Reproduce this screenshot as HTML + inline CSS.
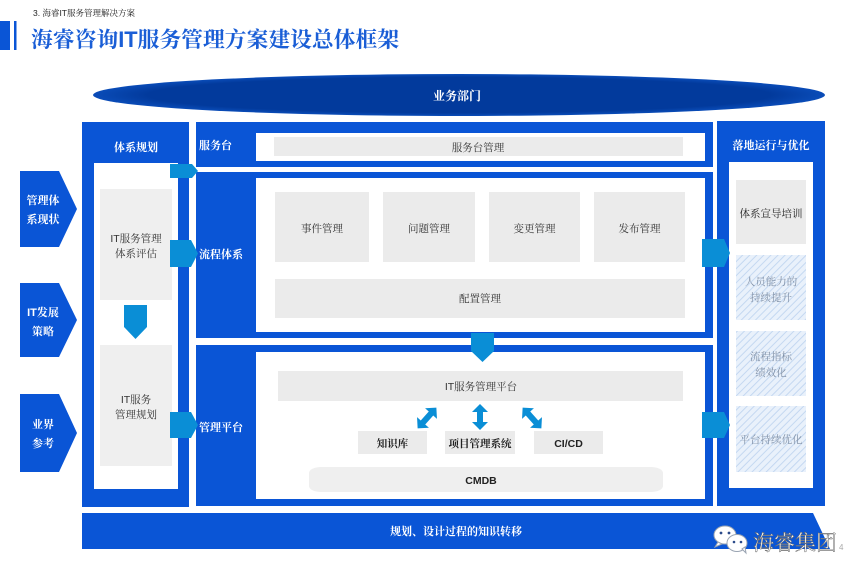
<!DOCTYPE html>
<html><head><meta charset="utf-8"><style>
html,body{margin:0;padding:0;background:#fff;}
body{width:865px;height:579px;overflow:hidden;position:relative;}
svg{position:absolute;left:0;top:0;}
text{font-family:"Liberation Sans","Noto Serif CJK SC","Noto Sans CJK SC",serif;}
</style></head><body>
<svg width="865" height="579" viewBox="0 0 865 579" xmlns="http://www.w3.org/2000/svg">
<defs>
<pattern id="hatch" width="5" height="5" patternUnits="userSpaceOnUse" patternTransform="rotate(45)">
<rect width="5" height="5" fill="#e9f1fb"/>
<line x1="0" y1="0" x2="0" y2="5" stroke="#c4d8f1" stroke-width="2"/>
</pattern>
<radialGradient id="ell" cx="0.5" cy="0.5" r="0.5">
<stop offset="0" stop-color="#023a9c"/>
<stop offset="0.85" stop-color="#023a9c"/>
<stop offset="1" stop-color="#0a4cb8"/>
</radialGradient>
</defs>

<!-- header -->
<text x="33" y="16" font-size="8.5" fill="#222">3. 海睿IT服务管理解决方案</text>
<rect x="0" y="21" width="10" height="29" fill="#0a55d6"/>
<rect x="14" y="21" width="2.5" height="29" fill="#0a55d6"/>
<text x="31" y="47" font-size="21.8" font-weight="bold" fill="#1a5ed6" font-family="Liberation Serif,Noto Serif CJK SC,serif">海睿咨询IT服务管理方案建设总体框架</text>

<!-- ellipse -->
<ellipse cx="459" cy="95" rx="366" ry="21" fill="url(#ell)"/>
<text x="457" y="100" font-size="12" font-weight="bold" fill="#fff" text-anchor="middle">业务部门</text>

<!-- left pentagons -->
<polygon points="20,171 59,171 77,209 59,247 20,247" fill="#0a55d6"/>
<text x="43" y="204" font-size="11" font-weight="bold" fill="#fff" text-anchor="middle">管理体</text>
<text x="43" y="223" font-size="11" font-weight="bold" fill="#fff" text-anchor="middle">系现状</text>
<polygon points="20,283 59,283 77,320 59,357 20,357" fill="#0a55d6"/>
<text x="43" y="316" font-size="11" font-weight="bold" fill="#fff" text-anchor="middle">IT发展</text>
<text x="43" y="335" font-size="11" font-weight="bold" fill="#fff" text-anchor="middle">策略</text>
<polygon points="20,394 59,394 77,433 59,472 20,472" fill="#0a55d6"/>
<text x="43" y="428" font-size="11" font-weight="bold" fill="#fff" text-anchor="middle">业界</text>
<text x="43" y="447" font-size="11" font-weight="bold" fill="#fff" text-anchor="middle">参考</text>

<!-- left panel -->
<rect x="82" y="122" width="107" height="385" fill="#0a55d6"/>
<rect x="94" y="163" width="84" height="326" fill="#fff"/>
<text x="136" y="151" font-size="11" font-weight="bold" fill="#fff" text-anchor="middle">体系规划</text>
<rect x="100" y="189" width="72" height="111" fill="#efefef"/>
<text x="136" y="242" font-size="10.5" fill="#333" text-anchor="middle">IT服务管理</text>
<text x="136" y="257" font-size="10.5" fill="#333" text-anchor="middle">体系评估</text>
<polygon points="124,305 147,305 147,327 135.5,339 124,327" fill="#0a8ed6"/>
<rect x="100" y="345" width="72" height="121" fill="#efefef"/>
<text x="136" y="403" font-size="10.5" fill="#333" text-anchor="middle">IT服务</text>
<text x="136" y="418" font-size="10.5" fill="#333" text-anchor="middle">管理规划</text>

<!-- middle: service desk -->
<rect x="196" y="122" width="517" height="45" fill="#0a55d6"/>
<rect x="256" y="133" width="449" height="28" fill="#fff"/>
<rect x="274" y="137" width="409" height="19" fill="#ebebeb"/>
<text x="478" y="151" font-size="10.5" fill="#333" text-anchor="middle">服务台管理</text>
<text x="199" y="149" font-size="11" font-weight="bold" fill="#fff">服务台</text>

<!-- middle: process -->
<rect x="196" y="172" width="517" height="166" fill="#0a55d6"/>
<rect x="256" y="178" width="449" height="154" fill="#fff"/>
<text x="199" y="258" font-size="11" font-weight="bold" fill="#fff">流程体系</text>
<rect x="275" y="192" width="94" height="70" fill="#ebebeb"/>
<rect x="383" y="192" width="92" height="70" fill="#ebebeb"/>
<rect x="489" y="192" width="91" height="70" fill="#ebebeb"/>
<rect x="594" y="192" width="91" height="70" fill="#ebebeb"/>
<text x="322" y="232" font-size="10.5" fill="#333" text-anchor="middle">事件管理</text>
<text x="429" y="232" font-size="10.5" fill="#333" text-anchor="middle">问题管理</text>
<text x="534.5" y="232" font-size="10.5" fill="#333" text-anchor="middle">变更管理</text>
<text x="639.5" y="232" font-size="10.5" fill="#333" text-anchor="middle">发布管理</text>
<rect x="275" y="279" width="410" height="39" fill="#ebebeb"/>
<text x="480" y="302" font-size="10.5" fill="#333" text-anchor="middle">配置管理</text>

<!-- middle: platform -->
<rect x="196" y="345" width="517" height="161" fill="#0a55d6"/>
<rect x="256" y="352" width="449" height="147" fill="#fff"/>
<text x="199" y="431" font-size="11" font-weight="bold" fill="#fff">管理平台</text>
<rect x="278" y="371" width="405" height="30" fill="#ebebeb"/>
<text x="481" y="390" font-size="10.5" fill="#333" text-anchor="middle">IT服务管理平台</text>
<rect x="358" y="431" width="69" height="23" fill="#ebebeb"/>
<rect x="445" y="431" width="70" height="23" fill="#ebebeb"/>
<rect x="534" y="431" width="69" height="23" fill="#ebebeb"/>
<text x="392.5" y="447" font-size="10.5" font-weight="bold" fill="#222" text-anchor="middle">知识库</text>
<text x="480" y="447" font-size="10.5" font-weight="bold" fill="#222" text-anchor="middle">项目管理系统</text>
<text x="568.5" y="447" font-size="10.5" font-weight="bold" fill="#222" text-anchor="middle">CI/CD</text>
<rect x="309" y="467" width="354" height="25" rx="12" ry="6" fill="#efefef"/>
<text x="481" y="484" font-size="10.5" font-weight="bold" fill="#222" text-anchor="middle">CMDB</text>
<!-- double arrows -->
<g fill="#0a8ed6">
<polygon transform="translate(480,417)" points="0,-13 8,-5 3,-5 3,5 8,5 0,13 -8,5 -3,5 -3,-5 -8,-5"/>
<polygon transform="translate(427,418) rotate(42)" points="0,-14 8,-6 3,-6 3,6 8,6 0,14 -8,6 -3,6 -3,-6 -8,-6"/>
<polygon transform="translate(532,418) rotate(-42)" points="0,-14 8,-6 3,-6 3,6 8,6 0,14 -8,6 -3,6 -3,-6 -8,-6"/>
</g>

<!-- down arrow middle -->
<polygon points="471,333 494,333 494,351 482.5,362 471,351" fill="#0a8ed6"/>

<!-- left connectors -->
<polygon points="170,164 192,164 198,171 192,178 170,178" fill="#0a8ed6"/>
<polygon points="170,240 191,240 198,253.5 191,267 170,267" fill="#0a8ed6"/>
<polygon points="170,412 191,412 198,425 191,438 170,438" fill="#0a8ed6"/>

<!-- right panel -->
<rect x="717" y="121" width="108" height="385" fill="#0a55d6"/>
<rect x="729" y="162" width="84" height="326" fill="#fff"/>
<text x="771" y="149" font-size="11" font-weight="bold" fill="#fff" text-anchor="middle">落地运行与优化</text>
<rect x="736" y="180" width="70" height="64" fill="#ebebeb"/>
<text x="771" y="217" font-size="10.5" fill="#222" text-anchor="middle">体系宣导培训</text>
<rect x="736" y="255" width="70" height="65" fill="url(#hatch)"/>
<text x="771" y="285" font-size="10.5" fill="#8090a6" text-anchor="middle">人员能力的</text>
<text x="771" y="301" font-size="10.5" fill="#8090a6" text-anchor="middle">持续提升</text>
<rect x="736" y="331" width="70" height="65" fill="url(#hatch)"/>
<text x="771" y="360" font-size="10.5" fill="#8090a6" text-anchor="middle">流程指标</text>
<text x="771" y="376" font-size="10.5" fill="#8090a6" text-anchor="middle">绩效化</text>
<rect x="736" y="406" width="70" height="66" fill="url(#hatch)"/>
<text x="771" y="443" font-size="10.5" fill="#8090a6" text-anchor="middle">平台持续优化</text>

<!-- right connectors -->
<polygon points="702,239 724,239 730,253 724,267 702,267" fill="#0a8ed6"/>
<polygon points="702,412 724,412 730,425 724,438 702,438" fill="#0a8ed6"/>

<!-- bottom bar -->
<polygon points="82,513 813,513 830,549 82,549" fill="#0a55d6"/>
<text x="456" y="535" font-size="11" font-weight="bold" fill="#fff" text-anchor="middle">规划、设计过程的知识转移</text>

<!-- watermark -->
<g stroke="#9aa4b2" stroke-width="1" fill="#fff">
<ellipse cx="725" cy="535" rx="11" ry="9"/>
<path d="M718,542 l-3,5 l7,-3 z"/>
<ellipse cx="737" cy="543" rx="10" ry="8.5"/>
<path d="M742,549 l4,4 l-1,-6 z"/>
</g>
<circle cx="721" cy="533" r="1.4" fill="#2b4a8a"/>
<circle cx="729" cy="533" r="1.4" fill="#2b4a8a"/>
<circle cx="734" cy="542" r="1.3" fill="#2b4a8a"/>
<circle cx="741" cy="542" r="1.3" fill="#2b4a8a"/>
<text x="753" y="550" font-size="21" fill="#fff" stroke="#666" stroke-width="0.5" font-family="Liberation Sans,Noto Sans CJK SC,sans-serif">海睿集团</text>
<text x="839" y="550" font-size="8" fill="#aaa">4</text>
</svg>
</body></html>
